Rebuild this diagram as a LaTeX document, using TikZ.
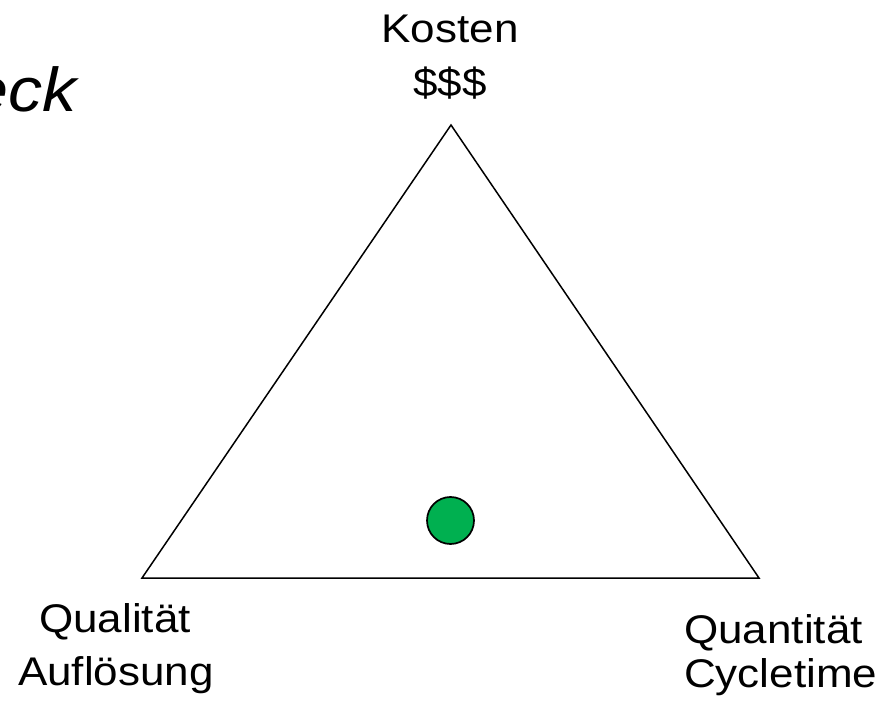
\documentclass[tikz,border=0pt]{standalone}
\usepackage{fontspec}
\setmainfont{Liberation Sans}[FakeStretch=1.1]
\definecolor{dotgreen}{RGB}{0,176,80}
\begin{document}
\begin{tikzpicture}[x=1pt,y=-1pt,
  lbl/.style={inner sep=0pt,font=\fontsize{40}{48}\selectfont},
  edge/.style={draw=black,line width=1.5pt,line join=miter},
  dot/.style={circle,draw=black,line width=1.7pt,fill=dotgreen,minimum size=47pt,inner sep=0pt}]
\useasboundingbox (0,0) rectangle (884,703);
\node[lbl,anchor=base east,font=\fontsize{62}{70}\selectfont\itshape] (title) at (77,112) {eck};
\node[lbl,anchor=base] (kosten) at (450,43) {Kosten};
\node[lbl,anchor=base] (dollar) at (450,97) {\$\$\$};
\node[lbl,anchor=base] (qual) at (115,632) {Qualität};
\node[lbl,anchor=base] (aufl) at (116,685) {Auflösung};
\node[lbl,anchor=base west] (quant) at (684,643) {Quantität};
\node[lbl,anchor=base west] (cyc) at (684,687) {Cycletime};
\coordinate (top) at (451,125);
\coordinate (left) at (142,578);
\coordinate (right) at (759,578);
\draw[edge] (top) -- (left) -- (right) -- cycle;
\node[dot] (point) at (450.5,520.5) {};
\end{tikzpicture}
\end{document}
